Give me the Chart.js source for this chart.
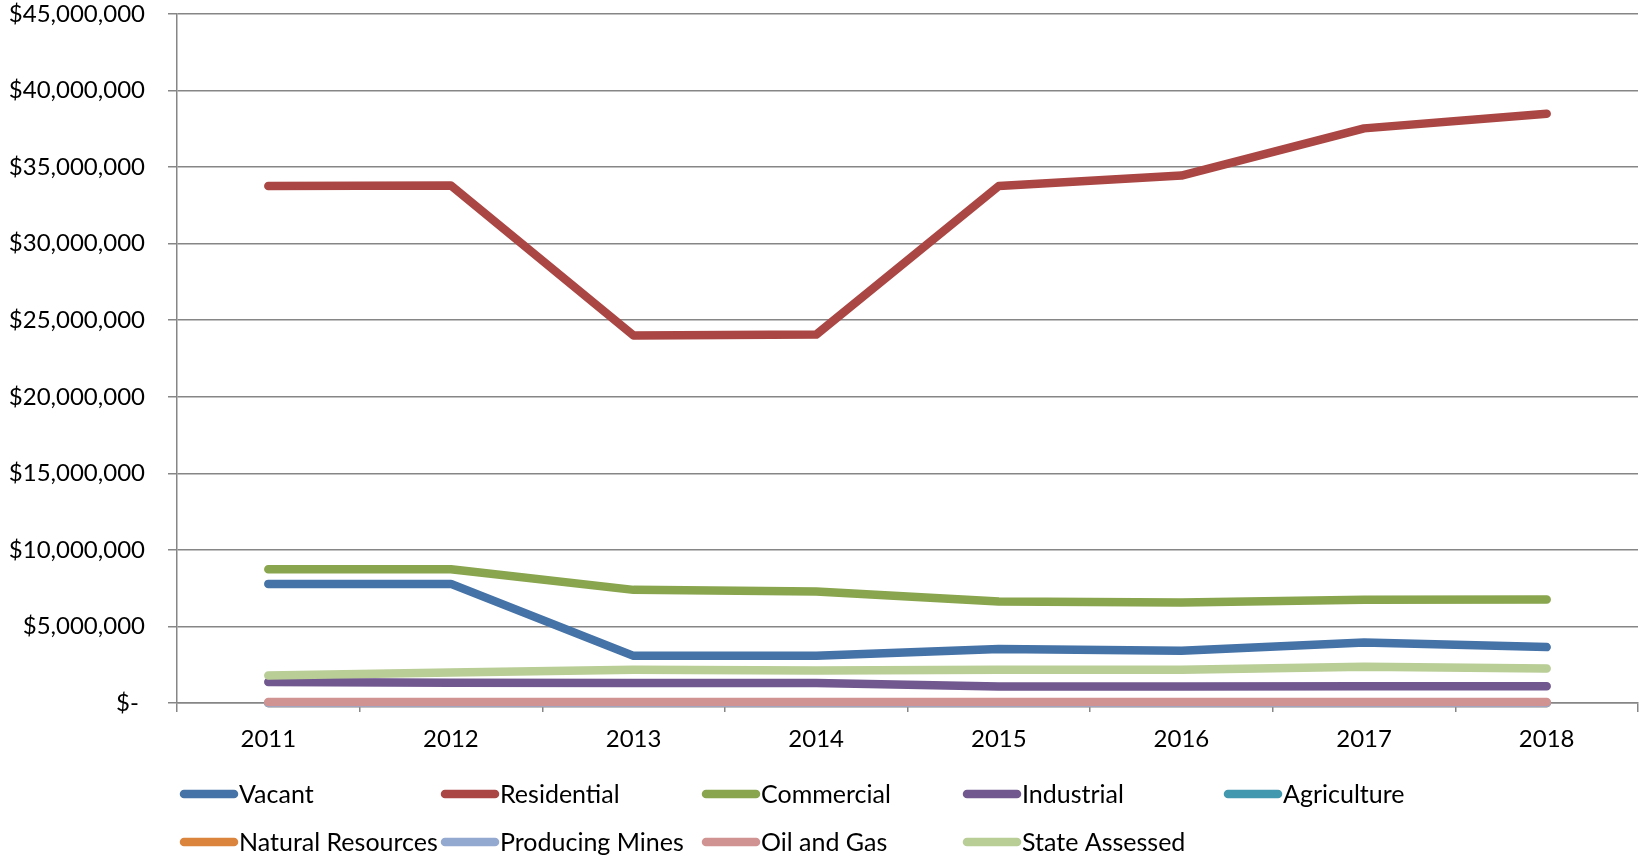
<!DOCTYPE html>
<html>
<head>
<meta charset="utf-8">
<script src="https://cdn.jsdelivr.net/npm/chart.js@4"></script>
<style>
  html, body { margin: 0; padding: 0; background: #fff; }
  #wrap { width: 1643px; height: 858px; position: relative; }
</style>
</head>
<body>
<div id="wrap"><canvas id="chart"></canvas></div>
<script>
// Years on the x axis
const years = ["2011", "2012", "2013", "2014", "2015", "2016", "2017", "2018"];

// Values per property class (dollars)
const vacant = [7780000, 7780000, 3080000, 3080000, 3520000, 3410000, 3950000, 3650000];
const residential = [33770000, 33800000, 24000000, 24060000, 33770000, 34450000, 37530000, 38480000];
const commercial = [8740000, 8740000, 7390000, 7280000, 6630000, 6560000, 6740000, 6760000];
const industrial = [1370000, 1320000, 1300000, 1300000, 1080000, 1080000, 1100000, 1100000];
const agriculture = [0, 0, 0, 0, 0, 0, 0, 0];
const naturalResources = [0, 0, 0, 0, 0, 0, 0, 0];
const producingMines = [0, 0, 0, 0, 0, 0, 0, 0];
const oilAndGas = [60000, 60000, 60000, 60000, 60000, 60000, 60000, 60000];
const stateAssessed = [1800000, 2000000, 2170000, 2130000, 2170000, 2170000, 2370000, 2260000];

const seriesNames = ["Vacant", "Residential", "Commercial", "Industrial", "Agriculture",
    "Natural Resources", "Producing Mines", "Oil and Gas", "State Assessed"];
const seriesValues = [vacant, residential, commercial, industrial, agriculture,
    naturalResources, producingMines, oilAndGas, stateAssessed];
const seriesColors = ["#4572a7", "#aa4643", "#89a54e", "#71588f", "#4198af",
    "#db843d", "#93a9cf", "#d19392", "#b9cd96"];

// y tick labels
const yMax = 45000000;
const yStep = 5000000;

const gridGray = "#868686";
const font = "Lato";

// Excel-style legend: fixed columns, 5 per row
const gridLegend = {
    id: "gridLegend",
    afterDraw(chart) {
        const ctx = chart.ctx;
        ctx.save();
        ctx.font = "25px " + font;
        ctx.textBaseline = "middle";
        ctx.fillStyle = "#000";
        ctx.lineCap = "round";
        ctx.lineWidth = 8.5;
        chart.data.datasets.forEach((ds, i) => {
            const x = 180 + (i % 5) * 261;
            const y = 794 + Math.floor(i / 5) * 48;
            ctx.strokeStyle = ds.borderColor;
            ctx.beginPath();
            ctx.moveTo(x + 4, y);
            ctx.lineTo(x + 54, y);
            ctx.stroke();
            ctx.fillText(ds.label, x + 59, y + 1);
        });
        ctx.restore();
    },
};

const chart = new Chart(document.getElementById("chart"), {
    type: "line",
    data: {
        labels: years,
        datasets: seriesNames.map((name, i) => ({
            label: name,
            data: seriesValues[i],
            borderColor: seriesColors[i],
            backgroundColor: seriesColors[i],
            borderWidth: 8.5,
            borderCapStyle: "round",
            borderJoinStyle: "round",
            pointRadius: 0,
            tension: 0,
            clip: false,
            order: seriesNames.length - i,
        })),
    },
    options: {
        responsive: true,
        maintainAspectRatio: false,
        animation: false,
        layout: { padding: { top: 14, right: 5, bottom: 105, left: 0 } },
        plugins: {
            legend: { display: false },
            tooltip: { enabled: false },
        },
        scales: {
            x: {
                offset: true,
                grid: {
                    display: true,
                    drawOnChartArea: false,
                    color: gridGray,
                    lineWidth: 1.5,
                    tickLength: 9,
                    offset: true,
                },
                border: { color: gridGray, width: 1.5 },
                ticks: { color: "#000", font: { family: font, size: 24 }, padding: 13 },
                afterFit(scale) {
                    scale.height = 50;
                    scale.paddingLeft = 0;
                    scale.paddingRight = 0;
                },
            },
            y: {
                min: 0,
                max: yMax,
                grid: { color: gridGray, lineWidth: 1.5, tickLength: 9 },
                border: { color: gridGray, width: 1.5 },
                ticks: {
                    stepSize: yStep,
                    color: "#000",
                    padding: 23,
                    font: { family: font, size: 24 },
                    callback: (v) => v === 0 ? "$- " : "$" + v.toLocaleString("en-US"),
                },
                afterFit(scale) {
                    scale.width = 177;
                    scale.paddingTop = 0;
                    scale.paddingBottom = 0;
                },
            },
        },
    },
    plugins: [gridLegend],
});
</script>
</body>
</html>
